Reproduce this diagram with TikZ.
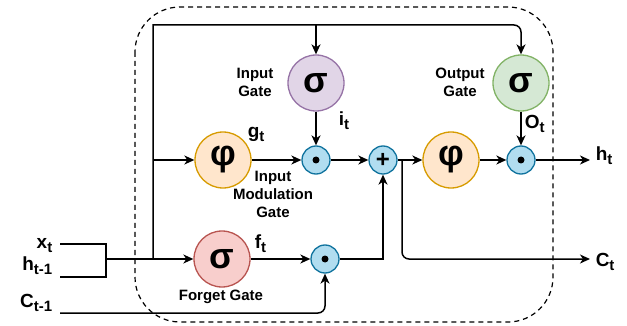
\documentclass[tikz,border=0pt]{standalone}
\usepackage{fontspec}
\setmainfont{Liberation Sans}
\usetikzlibrary{arrows.meta}

\definecolor{igfill}{HTML}{E1D5E7}
\definecolor{igline}{HTML}{9673A6}
\definecolor{ogfill}{HTML}{D5E8D4}
\definecolor{ogline}{HTML}{82B366}
\definecolor{fgfill}{HTML}{F8CECC}
\definecolor{fgline}{HTML}{B85450}
\definecolor{phfill}{HTML}{FFE6CC}
\definecolor{phline}{HTML}{D79B00}
\definecolor{opfill}{HTML}{B1DDF0}
\definecolor{opline}{HTML}{10739E}

\newcommand{\lsub}[2]{#1\raisebox{-4pt}{\fontsize{15}{15}\selectfont #2}}

\begin{document}
\begin{tikzpicture}[x=1pt, y=-1pt, >={Stealth[length=10pt, width=9pt, inset=3pt]}, line width=1.5pt,
    gate/.style={draw, circle, minimum size=56pt, inner sep=0pt, line width=1.3pt, font=\fontsize{36}{36}\selectfont\bfseries},
    op/.style={draw=opline, fill=opfill, circle, minimum size=28pt, inner sep=0pt, line width=1.3pt},
    dotop/.style={op, path picture={\fill[black] (path picture bounding box.center) circle (3.5pt);}},
    lbl/.style={font=\fontsize{15}{18}\selectfont\bfseries, align=center, inner sep=0pt},
    var/.style={font=\fontsize{19}{19}\selectfont\bfseries, inner sep=0pt}]

    \useasboundingbox (0,0) rectangle (627,326);

    % Frame
    \draw[dash pattern=on 5pt off 4pt, line width=1.2pt, rounded corners=45pt] (135,7) rectangle (553,322);

    % Nodes
    \node[gate, draw=igline, fill=igfill] (ig) at (316,83) {σ};
    \node[gate, draw=ogline, fill=ogfill] (og) at (521,83) {σ};
    \node[gate, draw=fgline, fill=fgfill] (fg) at (222,259) {σ};
    \node[gate, draw=phline, fill=phfill] (mg) at (223,160) {φ};
    \node[gate, draw=phline, fill=phfill] (tc) at (451,160) {φ};
    \node[dotop] (m1) at (316,160) {};
    \node[dotop] (m2) at (521,160) {};
    \node[dotop] (m3) at (325,259) {};
    \node[op, font=\fontsize{24}{24}\selectfont\bfseries] (ad) at (383,160) {+};

    % Coordinates
    \coordinate (xin) at (60,244);
    \coordinate (xj) at (106,244);
    \coordinate (hin) at (60,277);
    \coordinate (hj) at (106,277);
    \coordinate (mj) at (106,259);
    \coordinate (sp) at (153,259);
    \coordinate (tp) at (153,25);
    \coordinate (cin) at (60,313);
    \coordinate (cb) at (402,160);
    \coordinate (cout) at (590,259);
    \coordinate (hout) at (590,160);

    % Labels
    \node[var, anchor=base east] (xt) at (53,248) {\lsub{x}{t}};
    \node[var, anchor=base east] (ht1) at (53,270) {\lsub{h}{t-1}};
    \node[var, anchor=base east] (ct1) at (53,307) {\lsub{C}{t-1}};
    \node[var, anchor=base west] (ht) at (595,161) {\lsub{h}{t}};
    \node[var, anchor=base west] (ct) at (595,266) {\lsub{C}{t}};
    \node[var, anchor=base west] (it) at (338,126) {\lsub{i}{t}};
    \node[var, anchor=base west] (gt) at (247,138) {\lsub{g}{t}};
    \node[var, anchor=base west] (ot) at (524,129) {\lsub{O}{t}};
    \node[var, anchor=base west] (ft) at (254,248) {\lsub{f}{t}};
    \node[lbl] (igl) at (255,82) {Input\\Gate};
    \node[lbl] (ogl) at (460,82) {Output\\Gate};
    \node[lbl] (mgl) at (273,194) {Input\\Modulation\\Gate};
    \node[lbl] (fgl) at (221,297) {Forget Gate};

    % Edges
    \draw (xin) -- (xj) -- (hj) -- (hin);
    \draw[->] (mj) -- (fg);
    \draw[->] (sp) -- (tp) [rounded corners=7pt] -| (og);
    \draw[->] (tp -| ig) -- (ig);
    \draw[->] (sp |- mg) -- (mg);
    \draw[->] (mg) -- (m1);
    \draw[->] (ig) -- (m1);
    \draw[->] (m1) -- (ad);
    \draw[->] (ad) -- (tc);
    \draw[->] (tc) -- (m2);
    \draw[->] (og) -- (m2);
    \draw[->] (m2) -- (hout);
    \draw[->, rounded corners=7pt] (cb) |- (cout);
    \draw[->] (fg) -- (m3);
    \draw[->] (m3) -| (ad);
    \draw[->, rounded corners=7pt] (cin) -| (m3);
\end{tikzpicture}
\end{document}
